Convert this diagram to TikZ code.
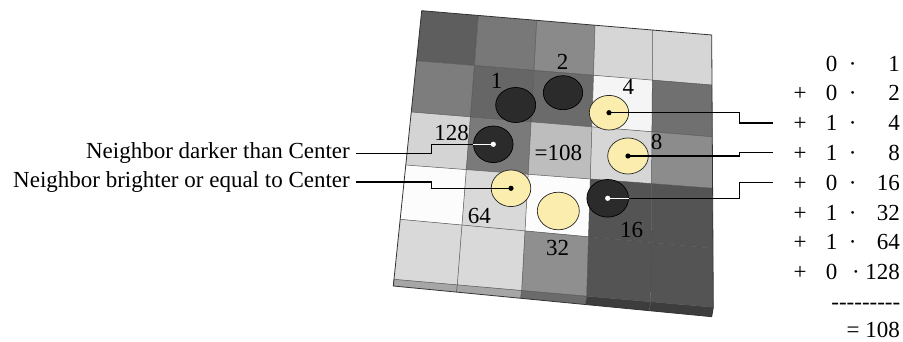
\documentclass[tikz,border=0pt]{standalone}
\usepackage{fontspec}
\setmainfont{Liberation Serif}
\usetikzlibrary{shapes.geometric,calc}

\definecolor{darkfill}{HTML}{2B2B2B}
\definecolor{palefill}{HTML}{FAEDAE}
\definecolor{gridcol}{HTML}{505050}

\begin{document}
\begin{tikzpicture}[x=1pt,y=-1pt,
  txt/.style={font=\fontsize{23}{27}\selectfont, inner sep=0pt},
  wire/.style={line width=1.3pt, black},
  backwire/.style={line width=1.3pt, white},
  darkdisc/.style={ellipse, draw=black, line width=0.7pt, fill=darkfill, inner sep=0pt},
  paledisc/.style={ellipse, draw=black!85, line width=0.7pt, fill=palefill, inner sep=0pt},
  gridline/.style={draw=gridcol, line width=0.5pt}
]
\useasboundingbox (0,0) rectangle (903,342);

% ---- slab outline points: column lines (top/bottom) and row lines (left/right)
\foreach \n/\x/\y in {0/421.7/10.7, 1/478.3/15.4, 2/536.7/20.3, 3/595/25.2, 4/652.7/30.1, 5/711.7/35}
  \coordinate (\n T) at (\x,\y);
\foreach \n/\x/\y in {0/394/279.3, 1/457.3/284.9, 2/521.7/290.5, 3/586.7/296.2, 4/650.7/301.8, 5/713.3/307.3}
  \coordinate (\n B) at (\x,\y);
\foreach \n/\x/\y in {0/421.7/10.7, 1/416.5/60.7, 2/411.2/112, 3/405.8/165, 4/400.2/219.3, 5/394/279.3}
  \coordinate (\n L) at (\x,\y);
\foreach \n/\x/\y in {0/711.7/35, 1/712/85, 2/712.3/136.7, 3/712.6/188.3, 4/712.9/248.3, 5/713.3/307.3}
  \coordinate (\n R) at (\x,\y);
% lower edge of the front face
\foreach \n/\x/\y in {0/393.3/286, 1/456.4/292.1, 2/520.6/298.3, 3/585.5/304.5, 4/649.3/310.7, 5/711.7/316.7}
  \coordinate (\n S) at (\x,\y);

% grid vertices
\foreach \i in {0,...,5}{
  \foreach \j in {0,...,5}{
    \coordinate (V\i-\j) at (intersection of \i T--\i B and \j L--\j R);
  }
}

% ---- cell shades (percent white), row by row
\foreach \j/\i/\g in {
  0/0/37, 0/1/47, 0/2/54, 0/3/84, 0/4/84,
  1/0/49, 1/1/40, 1/2/42, 1/3/96, 1/4/44,
  2/0/83, 2/1/48, 2/2/74, 2/3/84, 2/4/55,
  3/0/99, 3/1/85, 3/2/99, 3/3/33, 3/4/33,
  4/0/85, 4/1/85, 4/2/56, 4/3/33, 4/4/33}{
  \pgfmathtruncatemacro{\ii}{\i+1}
  \pgfmathtruncatemacro{\jj}{\j+1}
  \fill[white!\g!black] (V\i-\j) -- (V\ii-\j) -- (V\ii-\jj) -- (V\i-\jj) -- cycle;
}

% ---- front face of the slab
\foreach \i/\g in {0/65, 1/65, 2/42, 3/24, 4/24}{
  \pgfmathtruncatemacro{\ii}{\i+1}
  \fill[white!\g!black] (\i B) -- (\ii B) -- (\ii S) -- (\i S) -- cycle;
  \draw[gridline] (\i B) -- (\i S);
}

% ---- grid lines
\foreach \n in {1,...,4}{
  \draw[gridline] (\n T) -- (\n B);
  \draw[gridline] (\n L) -- (\n R);
}
\draw[draw=black!80, line width=0.8pt, line join=round]
  (0T) -- (5T) -- (5B) -- (5S) -- (0S) -- (0B) -- cycle;
\draw[gridline] (0B) -- (5B);

% ---- neighbour discs
\node[darkdisc, minimum width=40pt,   minimum height=35pt]   (c1)   at (515.7,105)   {};
\node[darkdisc, minimum width=39.4pt, minimum height=34pt]   (c2)   at (563,92.7)    {};
\node[paledisc, minimum width=39.4pt, minimum height=34.6pt] (c4)   at (609,112.7)   {};
\node[paledisc, minimum width=40.6pt, minimum height=36pt]   (c8)   at (628,156)     {};
\node[darkdisc, minimum width=41.6pt, minimum height=37.6pt] (c16)  at (607.7,198.3) {};
\node[paledisc, minimum width=42pt,   minimum height=37.6pt] (c32)  at (558.3,211)   {};
\node[paledisc, minimum width=39.6pt, minimum height=36.6pt] (c64)  at (511,188.3)   {};
\node[darkdisc, minimum width=39.6pt, minimum height=36.6pt] (c128) at (493.3,144.3) {};

% ---- weights on the slab
\node[txt] (w1)   at (496.5,81)   {1};
\node[txt] (w2)   at (562.7,61.7) {2};
\node[txt] (w4)   at (628.3,87.3) {4};
\node[txt] (w8)   at (656.7,141.7){8};
\node[txt] (w16)  at (631.7,230)  {16};
\node[txt] (w32)  at (557.7,248.3){32};
\node[txt] (w64)  at (479.3,216)  {64};
\node[txt] (w128) at (451.7,132.7){128};
\node[txt] (ctr)  at (558.3,153.3){=108};

% ---- legend on the left
\node[txt, anchor=base east] (lgDark)   at (350,158.5) {Neighbor darker than Center};
\node[txt, anchor=base east] (lgBright) at (350,188)   {Neighbor brighter or equal to Center};
\coordinate (dS) at (356,153.5);
\coordinate (bS) at (356,182);
\draw[wire] (dS) -- ++(75.7,0) |- (c128.center);
\draw[backwire] (c128.west) -- (c128.center);
\fill[white] (c128.center) circle (2.6);
\draw[wire] (bS) -- ++(75.7,0) |- (c64.center);
\fill[black] (c64.center) circle (2.6);

% ---- weighted sum on the right
\foreach \r/\y/\p/\b/\w/\dx in {
   1/63.3/{}/0/1/852.7,   2/93.1/+/0/2/852.7,   3/122.9/+/1/4/852.7,
   4/152.7/+/1/8/852.7,   5/182.5/+/0/16/852.7, 6/212.3/+/1/32/852.7,
   7/242.1/+/1/64/852.7,  8/271.9/+/0/128/856}{
  \node[txt, anchor=base] (p\r) at (800,\y+7.75)   {\p};
  \node[txt, anchor=base] (b\r) at (831.7,\y+7.75) {\b};
  \node[txt, anchor=base] (d\r) at (\dx,\y+7.75)   {·};
  \node[txt, anchor=base east] (v\r) at (900,\y+7.75) {\w};
}
\node[txt, anchor=base east] (rule) at (900.5,309) {-{}-{}-{}-{}-{}-{}-{}-{}-};
\node[txt, anchor=base east] (sum)  at (900,337.5) {= 108};

% connectors from the discs to their terms
\foreach \c/\r/\y in {c4/3/122.9, c8/4/152.7, c16/5/182.5}{
  \coordinate (k\r) at (739.5,\y);
  \coordinate (e\r) at (772.7,\y);
  \draw[wire] (\c.center) -| (k\r) -- (e\r);
}
\fill[black] (c4.center) circle (2.6);
\fill[black] (c8.center) circle (2.6);
\draw[backwire] (c16.center) -- (c16.east);
\fill[white] (c16.center) circle (2.6);

\end{tikzpicture}
\end{document}
